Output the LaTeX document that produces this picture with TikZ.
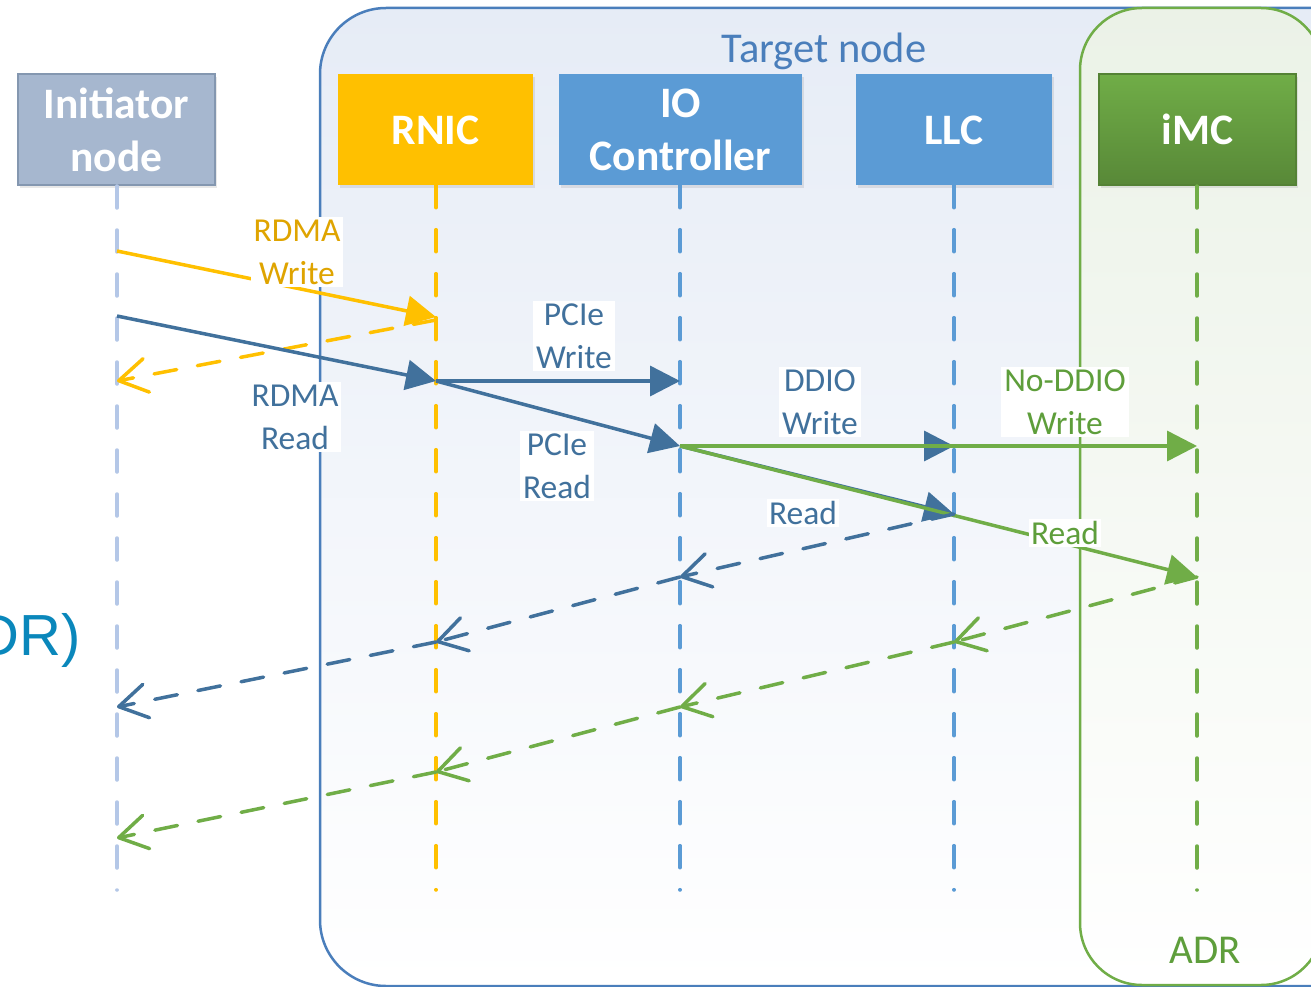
\documentclass[tikz,border=0pt]{standalone}
\usepackage{fontspec}
\setmainfont{Carlito}
\newfontfamily\arialfont{Liberation Sans}
\usetikzlibrary{arrows.meta,shadows}

\definecolor{tgtblue}{HTML}{4A7EBB}
\definecolor{tgtfill}{HTML}{E6ECF6}
\definecolor{darkblue}{HTML}{41719C}
\definecolor{midblue}{HTML}{5B9BD5}
\definecolor{gold}{HTML}{FFC000}
\definecolor{goldtext}{HTML}{DFA400}
\definecolor{leaf}{HTML}{70AD47}
\definecolor{leafdark}{HTML}{548235}
\definecolor{leaftext}{HTML}{5E9E3B}
\definecolor{leaffill}{HTML}{EBF2E7}
\definecolor{slate}{HTML}{A6B7CF}
\definecolor{slateline}{HTML}{8497B0}
\definecolor{paleline}{HTML}{B4C7E7}
\definecolor{tealtext}{HTML}{0A87BB}

\tikzset{
  hdr/.style={minimum height=111pt, inner sep=0pt, text=white, align=center,
    font=\fontsize{43.5}{53}\selectfont\bfseries,
    drop shadow={opacity=0.18, shadow xshift=2pt, shadow yshift=-3pt}},
  life/.style={line width=3.5pt, dash pattern=on 22pt off 22pt, line cap=round},
  go/.style={line width=3.5pt, -{Triangle[length=30pt,width=30pt]}},
  back/.style={line width=3.5pt, dash pattern=on 23pt off 21pt, line cap=round,
    -{Straight Barb[length=28pt,width=34pt,round]}},
  lbl/.style={fill=white, align=center, inner sep=3pt,
    font=\fontsize{33.5}{43}\selectfont},
}

\begin{document}
\begin{tikzpicture}[x=1pt, y=-1pt]
\useasboundingbox (0,0) rectangle (1311,987);
\clip (0,0) rectangle (1311,987);

% enclosing regions
\shade[top color=tgtfill, bottom color=white, draw=tgtblue, line width=2.5pt,
  rounded corners=66pt] (320,8) rectangle (1420,986);
\shade[top color=leaffill, bottom color=white, draw=leaf, line width=2.5pt,
  rounded corners=62pt] (1080,8) rectangle (1323,985);
\node[text=tgtblue, font=\fontsize{42.5}{50}\selectfont, anchor=base] (tgt) at (824,63) {Target node};
\node[text=leaftext, font=\fontsize{41}{50}\selectfont, anchor=base] (adr) at (1205,963) {ADR};
\node[text=tealtext, font=\arialfont\fontsize{58}{66}\selectfont, anchor=base east, inner sep=0pt] (adrl) at (81,655) {DR)};

% participants
\node[hdr, minimum width=197pt, fill=slate, draw=slateline, line width=2pt] (init) at (116.5,129.5) {Initiator\\node};
\node[hdr, minimum width=195pt, fill=gold] (rnic) at (435.5,130) {RNIC};
\node[hdr, minimum width=243pt, fill=midblue] (ioc) at (680.5,130) {IO\\Controller};
\node[hdr, minimum width=196pt, fill=midblue] (llc) at (954,130) {LLC};
\node[hdr, minimum width=197pt, top color=leaf, bottom color=leafdark!85!leaf, draw=leafdark, line width=2pt] (imc) at (1197.5,129.5) {iMC};

% lifeline ends
\coordinate (initE) at (117,890);
\coordinate (rnicE) at (436,890);
\coordinate (iocE) at (680,890);
\coordinate (llcE) at (954,890);
\coordinate (imcE) at (1197,890);

\draw[life, paleline] (init.south -| initE) -- (initE);
\draw[life, gold] (rnic.south -| rnicE) -- (rnicE);
\draw[life, midblue] (ioc.south -| iocE) -- (iocE);
\draw[life, midblue] (llc.south -| llcE) -- (llcE);
\draw[life, leaf] (imc.south -| imcE) -- (imcE);

% message points
\coordinate (iW) at (117,251);
\coordinate (rW) at (436,317);
\coordinate (rWb) at (436,320);
\coordinate (iWb) at (117,381);
\coordinate (iR) at (117,316);
\coordinate (rR) at (436,381);
\coordinate (oW) at (680,381);
\coordinate (oR) at (680,446);
\coordinate (lW) at (954,446);
\coordinate (lR) at (954,514);
\coordinate (mW) at (1197,446);
\coordinate (mR) at (1197,577);
\coordinate (oB) at (680,577);
\coordinate (rB) at (436,642);
\coordinate (iB) at (117,707);
\coordinate (lG) at (954,642);
\coordinate (oG) at (680,707);
\coordinate (rG) at (436,772);
\coordinate (iG) at (117,838);

% RDMA write
\draw[go, gold] (iW) -- (rW);
\draw[back, gold] (rWb) -- (iWb);

% RDMA read request chain
\draw[go, darkblue] (iR) -- (rR);
\draw[go, darkblue] (rR) -- (oW);
\draw[go, darkblue] (rR) -- (oR);
\draw[go, darkblue] (oR) -- (lW);
\draw[go, darkblue] (oR) -- (lR);
\draw[go, leaf] (oR) -- (mW);
\draw[go, leaf] (oR) -- (mR);

% responses
\draw[back, darkblue] (lR) -- (oB);
\draw[back, darkblue] (oB) -- (rB);
\draw[back, darkblue] (rB) -- (iB);
\draw[back, leaf] (mR) -- (lG);
\draw[back, leaf] (lG) -- (oG);
\draw[back, leaf] (oG) -- (rG);
\draw[back, leaf] (rG) -- (iG);

% message labels
\node[lbl, text=goldtext] (l1) at (297,252) {RDMA\\Write};
\node[lbl, text=darkblue] (l2) at (295,417) {RDMA\\Read};
\node[lbl, text=darkblue] (l3) at (574,336) {PCIe\\Write};
\node[lbl, text=darkblue] (l4) at (557,466) {PCIe\\Read};
\node[lbl, text=darkblue] (l5) at (820,402) {DDIO\\Write};
\node[lbl, text=leaftext] (l6) at (1065,402) {No-DDIO\\Write};
\node[lbl, text=darkblue, inner sep=2pt] (l7) at (803,513) {Read};
\node[lbl, text=leaftext, inner sep=2pt] (l8) at (1065,533) {Read};
\end{tikzpicture}
\end{document}
